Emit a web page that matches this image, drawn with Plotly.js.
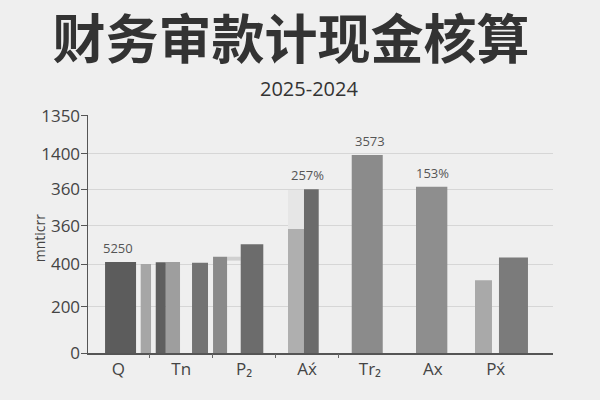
<!DOCTYPE html>
<html>
<head>
<meta charset="utf-8">
<script src="https://cdn.plot.ly/plotly-3.0.1.min.js"></script>
<style>
  html, body { margin: 0; padding: 0; background: #efefef; }
  #chart { width: 600px; height: 400px; }
</style>
</head>
<body>
<div id="chart"></div>
<script>
'use strict';

// categories and values (y in axis units)
const categories = ['Q', 'Tn', 'P₂', 'Ax́', 'Tr₂', 'Ax', 'Px́'];
const mainVals   = [393, 392, 470, 707, 855, 718, 413];
const secondVals = [384, 393, 416, 536, null, null, 314];
const backVals   = [null, 390, 17, 704, null, null, null];
const backBase   = [0, 0, 399, 0, 0, 0, 0];
const barLabels  = ['5250', '', '', '257%', '3573', '153%', ''];

// y tick labels (the picture's axis is not monotonic)
const yTickVals = [0, 200, 384, 549, 708, 860, 1024];
const yTickText = ['0', '200', '400', '360', '360', '1400', '1350'];

// bar geometry inside each category slot: left offset and width, in slot units
const mainOff   = [-0.211, -0.405, -0.054, -0.048, -0.289, -0.267, 0.052];
const mainW     = [0.493, 0.159, 0.359, 0.234, 0.493, 0.498, 0.461];
const secondOff = [0.356, -0.246, -0.494, -0.302, 0, 0, -0.329];
const secondW   = [0.164, 0.227, 0.223, 0.254, 0.1, 0.1, 0.27];
const backOff   = [0, 0.172, -0.272, -0.302, 0, 0, 0];
const backW     = [0.1, 0.254, 0.218, 0.254, 0.1, 0.1, 0.1];

const mainColors   = ['#5c5c5c', '#5f5f5f', '#6c6c6c', '#6b6b6b', '#8b8b8b', '#8e8e8e', '#7b7b7b'];
const secondColors = ['#a6a6a6', '#9e9e9e', '#8a8a8a', '#afafaf', '#999', '#999', '#a9a9a9'];
const backColors   = ['#ccc', '#737373', '#d0d0d0', '#e6e6e6', '#ccc', '#ccc', '#ccc'];

const idx = categories.map((c, i) => i);
const FONT = '"Open Sans", "Noto Sans", sans-serif';

const traces = [
    { x: idx, y: backVals, base: backBase, type: 'bar', offset: backOff, width: backW, marker: { color: backColors, line: { width: 0 } }, hoverinfo: 'skip' },
    { x: idx, y: secondVals, type: 'bar', offset: secondOff, width: secondW, marker: { color: secondColors, line: { width: 0 } }, hoverinfo: 'skip' },
    { x: idx, y: mainVals, type: 'bar', offset: mainOff, width: mainW, marker: { color: mainColors, line: { width: 0 } }, hoverinfo: 'skip' },
    // carrier for the between-category tick marks
    { x: [0], y: [0], xaxis: 'x2', type: 'scatter', mode: 'markers', marker: { opacity: 0 }, hoverinfo: 'skip' }
];

const annotations = barLabels.map((t, i) => ({
    x: i, y: mainVals[i], text: t, showarrow: false, yanchor: 'bottom', yshift: 3,
    font: { family: FONT, size: 13, color: '#555' }
})).filter(a => a.text);

annotations.push(
    { xref: 'paper', yref: 'paper', x: 0.475, y: 1.111, xanchor: 'center', yanchor: 'middle',
      text: '2025-2024', showarrow: false,
      font: { family: FONT, size: 20, color: '#333' } },
    { xref: 'paper', yref: 'paper', x: -0.105, y: 0.483, xanchor: 'center', yanchor: 'middle',
      text: 'mnticrr', textangle: -90, showarrow: false,
      font: { family: FONT, size: 14, color: '#444' } }
);

const xRange = [-0.482, 6.911];

const layout = {
    width: 600, height: 400,
    paper_bgcolor: '#efefef', plot_bgcolor: '#efefef',
    margin: { l: 88, r: 47, t: 115, b: 47 },
    showlegend: false,
    barmode: 'overlay',
    title: {
        text: '财务审款计现金核算', x: 0.485, xanchor: 'center', y: 0.9, yanchor: 'middle',
        font: { family: '"Noto Sans CJK SC", sans-serif', size: 53, weight: 'bold', color: '#333' }
    },
    xaxis: {
        range: xRange, tickvals: idx, ticktext: categories, ticks: '',
        showline: true, linecolor: '#555', linewidth: 2, showgrid: false, zeroline: false,
        tickfont: { family: FONT, size: 17, color: '#444' }
    },
    xaxis2: {
        overlaying: 'x', anchor: 'y', range: xRange, tickvals: [0.5, 1.5, 2.5, 3.5],
        ticks: 'outside', ticklen: 4, tickcolor: '#666', showticklabels: false,
        showline: false, showgrid: false, zeroline: false
    },
    yaxis: {
        range: [0, 1028], tickvals: yTickVals, ticktext: yTickText,
        ticks: 'outside', ticklen: 6, tickcolor: '#555', ticklabelstandoff: -3,
        showline: true, linecolor: '#555', linewidth: 1.5,
        showgrid: true, gridcolor: '#d6d6d6', gridwidth: 1, zeroline: false,
        tickfont: { family: FONT, size: 17, color: '#444' }
    },
    annotations
};

Plotly.newPlot('chart', traces, layout, { staticPlot: true, displayModeBar: false });
</script>
</body>
</html>
